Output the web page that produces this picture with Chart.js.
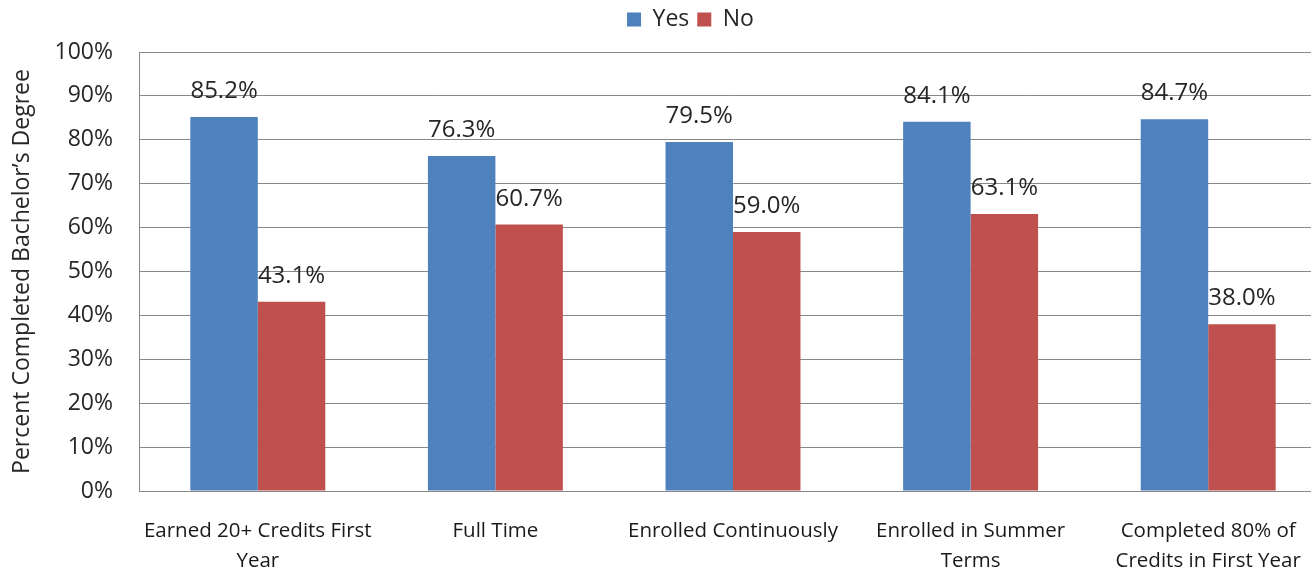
<!DOCTYPE html>
<html><head><meta charset="utf-8">
<script src="https://cdn.jsdelivr.net/npm/chart.js@4"></script>
<style>html,body{margin:0;padding:0;background:#fff;overflow:hidden;}#wrap{width:1311px;height:571px;overflow:hidden;}</style>
</head><body><div id="wrap"><canvas id="c" width="1330" height="571"></canvas></div>
<script>
const categories = [["Earned 20+ Credits First","Year"],"Full Time","Enrolled Continuously",["Enrolled in Summer","Terms"],["Completed 80% of","Credits in First Year"]];
const yesValues = [85.2, 76.3, 79.5, 84.1, 84.7];
const noValues = [43.1, 60.7, 59.0, 63.1, 38.0];
const yTicks = [0,10,20,30,40,50,60,70,80,90,100];

const FONT = "'Open Sans', sans-serif";
const labelPlugin = {
  id: 'barLabels',
  afterDatasetsDraw(chart) {
    const ctx = chart.ctx;
    ctx.save();
    ctx.font = "24px " + FONT;
    ctx.fillStyle = "#262626";
    ctx.textAlign = "center";
    ctx.textBaseline = "alphabetic";
    chart.data.datasets.forEach((ds, i) => {
      chart.getDatasetMeta(i).data.forEach((bar, j) => {
        ctx.fillText(ds.data[j].toFixed(1) + "%", bar.x, bar.y - 19);
      });
    });
    ctx.restore();
  }
};
const legendShift = {
  id: 'legendShift',
  afterLayout(chart) {
    const l = chart.legend;
    if (!l) return;
    l.left += 27; l.right += 27;
    l.top -= 11; l.bottom -= 11;
    if (l.legendHitBoxes) l.legendHitBoxes.forEach(b => { b.left += 27; b.top -= 11; });
  }
};

new Chart(document.getElementById('c'), {
  type: 'bar',
  data: {
    labels: categories,
    datasets: [
      {label: 'Yes', data: yesValues, backgroundColor: '#4F81BD', categoryPercentage: 0.568, barPercentage: 1},
      {label: 'No', data: noValues, backgroundColor: '#C0504D', categoryPercentage: 0.568, barPercentage: 1}
    ]
  },
  options: {
    responsive: false,
    animation: false,
    layout: {padding: {left: 0, right: 3, top: 11, bottom: 0}},
    plugins: {
      legend: {
        position: 'top',
        labels: {boxWidth: 14, boxHeight: 14, font: {size: 23, family: FONT}, color: '#262626', padding: 8}
      },
      tooltip: {enabled: false}
    },
    scales: {
      x: {
        grid: {display: false, drawTicks: false},
        border: {display: true, color: '#888'},
        ticks: {font: {size: 20.5, family: FONT, lineHeight: 1.42}, color: '#1a1a1a', padding: 26, maxRotation: 0, autoSkip: false},
        afterFit: s => { s.height = 80; }
      },
      y: {
        min: 0, max: 100,
        afterBuildTicks: s => { s.ticks = yTicks.map(v => ({value: v})); },
        grid: {color: '#888', drawTicks: false},
        border: {display: true, color: '#888'},
        ticks: {font: {size: 23, family: FONT}, color: '#262626', padding: 26, callback: v => v + '%'},
        title: {display: true, text: 'Percent Completed Bachelor’s Degree', font: {size: 23, family: FONT}, color: '#262626', padding: {top: 9, bottom: 0}},
        afterFit: s => { s.width = 139; }
      }
    }
  },
  plugins: [labelPlugin, legendShift]
});
</script></body></html>
